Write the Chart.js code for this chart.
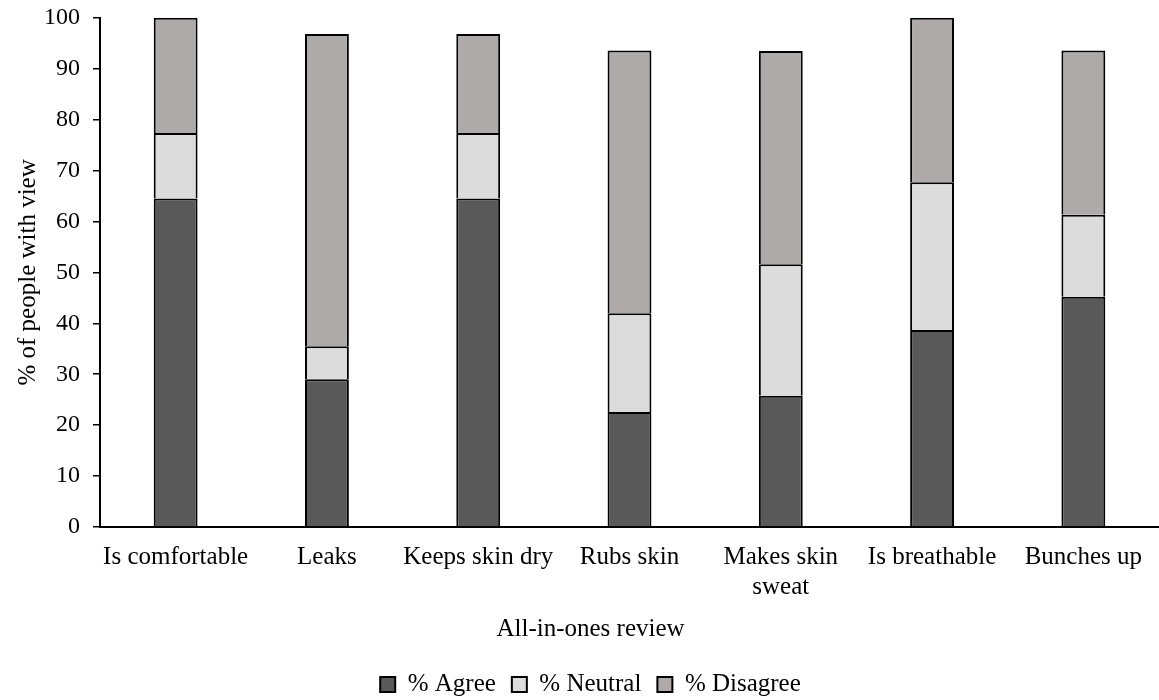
<!DOCTYPE html>
<html>
<head>
<meta charset="utf-8">
<script src="https://cdn.jsdelivr.net/npm/chart.js@4"></script>
<style>
  html, body { margin: 0; padding: 0; background: #fff; }
  #wrap { width: 1159px; height: 700px; }
</style>
</head>
<body>
<div id="wrap"><canvas id="myChart" width="1159" height="700"></canvas></div>
<script>
const categories = ["Is comfortable", "Leaks", "Keeps skin dry", "Rubs skin", ["Makes skin", "sweat"], "Is breathable", "Bunches up"];
const agree = [64.5, 29.0, 64.5, 22.6, 25.8, 38.7, 45.2];
const neutral = [12.9, 6.5, 12.9, 19.4, 25.8, 29.0, 16.1];
const disagree = [22.6, 61.3, 19.4, 51.6, 41.9, 32.3, 32.3];

const serif = "'Liberation Serif', 'Times New Roman', serif";
Chart.defaults.font.family = serif;
Chart.defaults.color = "#000";

const ctx = document.getElementById("myChart");

const bar = (label, data, color) => ({
  label: label,
  data: data,
  backgroundColor: color,
  borderColor: "#000",
  borderWidth: 2,
  borderSkipped: "start",
  barPercentage: 0.29,
  categoryPercentage: 1,
});

new Chart(ctx, {
  type: "bar",
  data: {
    labels: categories,
    datasets: [
      bar("% Agree", agree, "#595959"),
      bar("% Neutral", neutral, "#dcdcdc"),
      bar("% Disagree", disagree, "#aeaaaa"),
    ],
  },
  options: {
    responsive: false,
    animation: false,
    layout: { padding: { left: 22, right: 0, top: 0, bottom: -7 } },
    plugins: {
      tooltip: { enabled: false },
      title: {
        display: true,
        position: "bottom",
        text: "All-in-ones review",
        font: { size: 25, weight: "normal" },
        color: "#000",
        padding: { top: 10, bottom: 12 },
      },
      legend: {
        display: true,
        position: "bottom",
        weight: 3000,
        labels: {
          font: { size: 25 },
          boxWidth: 15,
          boxHeight: 15,
          padding: 16,
          color: "#000",
        },
      },
    },
    scales: {
      x: {
        stacked: true,
        grid: { display: false, drawTicks: true, tickLength: 13 },
        border: { color: "#000", width: 2 },
        ticks: { font: { size: 25 }, padding: 2, maxRotation: 0, autoSkip: false },
      },
      y: {
        stacked: true,
        min: 0,
        max: 100,
        ticks: { stepSize: 10, font: { size: 24, lineHeight: 0.4 }, padding: 13 },
        grid: { drawOnChartArea: false, tickLength: 7, color: "#000", lineWidth: 1.5 },
        border: { color: "#000", width: 2 },
        title: { display: true, text: "% of people with view", font: { size: 25 }, padding: { top: -9, bottom: -12 } },
      },
    },
  },
});
</script>
</body>
</html>
